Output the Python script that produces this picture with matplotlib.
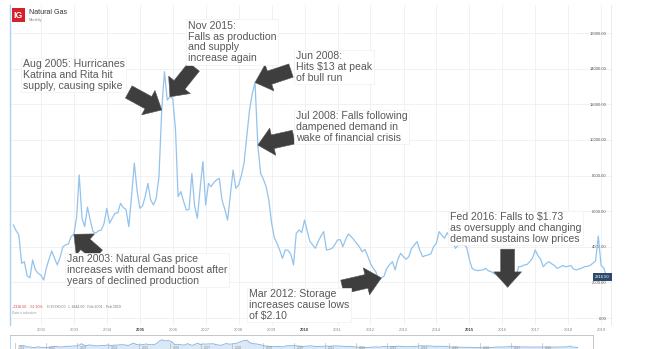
import numpy as np
import pandas as pd
import matplotlib
matplotlib.use('Agg')
import matplotlib.pyplot as plt
from matplotlib.ticker import FuncFormatter
from matplotlib.patches import Rectangle
from matplotlib.transforms import blended_transform_factory

plt.rcParams['font.family'] = ['Liberation Sans', 'DejaVu Sans']

# monthly closes of natural gas, Feb 2001 - Feb 2019 (points, 1000 = $1)
p2001 = [5220, 4900, 4660, 3070, 3160, 2360, 2260, 3260, 2700, 2510, 2400]
p2002 = [2130, 2790, 3300, 3760, 3350, 2980, 3400, 4000, 4100, 4150, 4570, 4700]
p2003 = [5690, 8030, 5600, 5130, 6230, 5500, 4850, 4770, 4900, 4940, 5300, 6160]
p2004 = [5320, 5600, 5880, 5900, 6440, 6200, 6100, 5130, 6800, 8690, 7190, 6160]
p2005 = [6300, 6800, 7560, 6630, 6350, 6700, 7930, 11680, 13830, 12240, 12420, 12330]
p2006 = [10550, 6810, 7100, 6550, 6060, 6100, 8120, 6270, 5600, 7300, 8780, 6350]
p2007 = [7560, 7370, 7600, 7750, 7840, 6630, 6100, 5500, 6900, 8310, 7280, 7470]
p2008 = [8000, 8690, 10180, 11680, 12610, 13220, 9710, 8120, 7800, 7370, 6630, 5320]
p2009 = [4500, 4200, 3800, 3350, 3820, 3800, 3600, 2980, 4750, 4940, 4800, 5500]
p2010 = [4850, 4300, 4100, 3910, 4300, 4600, 4850, 3820, 3850, 3910, 4100, 4380]
p2011 = [4400, 4000, 4400, 4720, 4570, 4400, 4190, 4000, 3720, 3850, 3500, 3070]
p2012 = [2790, 2600, 2100, 2250, 2360, 2790, 3000, 3160, 2700, 3300, 3630, 3440]
p2013 = [3300, 3440, 3900, 4100, 4290, 3820, 3440, 3500, 3540, 3600, 4000, 4190]
p2014 = [4850, 4660, 4480, 4790, 4500, 4380, 3910, 4100, 4100, 4100, 4000, 3300]
p2015 = [2790, 2700, 2660, 2680, 2700, 2790, 2650, 2600, 2500, 2410, 2300, 2200]
p2016 = [1950, 1730, 1960, 2180, 2300, 2880, 2900, 2980, 3000, 3160, 3350, 3820]
p2017 = [3500, 3300, 2880, 3050, 3160, 3050, 2950, 2790, 2850, 2950, 2880, 2900]
p2018 = [2950, 2750, 2700, 2750, 2800, 2880, 2900, 2950, 3070, 3200, 4600, 2950]
p2019 = [2800, 2316.50]

prices = (p2001 + p2002 + p2003 + p2004 + p2005 + p2006 + p2007 + p2008 + p2009
          + p2010 + p2011 + p2012 + p2013 + p2014 + p2015 + p2016 + p2017 + p2018 + p2019)
dates = pd.date_range('2001-02-01', periods=len(prices), freq='MS') + pd.offsets.MonthEnd(0)

year_ticks = list(range(2002, 2020))
bold_years = [2005, 2010, 2015]
nav_years = list(range(2001, 2019))
y_ticks = list(range(0, 16001, 2000))

notes = [
    ('Aug 2005: Hurricanes\nKatrina and Rita hit\nsupply, causing spike', 22.7, 75),
    ('Nov 2015:\nFalls as production\nand supply\nincrease again', 188, 42),
    ('Jun 2008:\nHits $13 at peak\nof bull run', 296, 67),
    ('Jul 2008: Falls following\ndampened demand in\nwake of financial crisis', 296, 127),
    ('Jan 2003: Natural Gas price\nincreases with demand boost after\nyears of declined production', 66.7, 270),
    ('Mar 2012: Storage\nincreases cause lows\nof $2.10', 249, 305),
    ('Fed 2016: Falls to $1.73\nas oversupply and changing\ndemand sustains low prices', 450, 228),
]


def idx(year, month):
    return (year - 2001) * 12 + month - 2


# arrow tip at a month, tail offset in pixels (dx, dy up)
arrows = [
    (idx(2005, 8), -33, 18),
    (idx(2005, 11), 24, 30),
    (idx(2008, 6), 36, 12),
    (idx(2008, 7), 36, 8),
    (idx(2002, 12), 24, -21),
    (idx(2012, 4), -39, -9),
    (idx(2016, 2), 0, 38),
]

W, H = 648, 349
fig = plt.figure(figsize=(W / 100, H / 100), dpi=100)


def px_axes(x0, y0, x1, y1):
    return fig.add_axes([x0 / W, 1 - y1 / H, (x1 - x0) / W, (y1 - y0) / H])


ax = px_axes(10, 5, 611, 325)
ax.plot(dates, prices, color='#93c3ec', lw=0.9, zorder=2)
ax.set_xlim(pd.Timestamp('2001-01-22'), pd.Timestamp('2019-04-20'))
ax.set_ylim(-393, 17574)

ax.set_xticks([pd.Timestamp(f'{y}-01-01') for y in year_ticks])
ax.set_xticklabels([str(y) for y in year_ticks])
for lbl, y in zip(ax.get_xticklabels(), year_ticks):
    if y in bold_years:
        lbl.set_fontweight('bold')
        lbl.set_color('#444444')
    else:
        lbl.set_color('#888888')
ax.tick_params(axis='x', length=0, pad=2.5, labelsize=3)

ax.yaxis.tick_right()
ax.set_yticks(y_ticks)
ax.yaxis.set_major_formatter(FuncFormatter(lambda v, _: f'{v:.2f}'))
ax.tick_params(axis='y', length=0, pad=-3, labelsize=3, labelcolor='#555555')
for lbl in ax.get_yticklabels():
    lbl.set_ha('right')

ax.grid(True, color='#efefef', lw=0.6, zorder=0)
ax.set_axisbelow(True)
for s in ['top', 'bottom']:
    ax.spines[s].set_visible(False)
ax.spines['left'].set_color('#a9d3ef')
ax.spines['left'].set_linewidth(1.0)
ax.spines['right'].set_color('#e8e8e8')
ax.spines['right'].set_linewidth(0.6)

# last price tag
blend = blended_transform_factory(ax.transAxes, ax.transData)
ax.text(0.998, prices[-1], f'{prices[-1]:.2f}', transform=blend, ha='right', va='center',
        fontsize=3, color='white', zorder=5,
        bbox=dict(boxstyle='square,pad=0.45', fc='#2d4a6a', ec='none'))

# annotation texts
for txt, x, y in notes:
    fig.text(x / W, 1 - y / H, txt, ha='left', va='center', fontsize=7.6,
             color='#595959', linespacing=1.08, zorder=1.5,
             bbox=dict(boxstyle='square,pad=0.15', fc='white', ec='#f0f0f0', lw=0.5))

# block arrows
for i, dx, dy in arrows:
    ax.annotate('', xy=(dates[i], prices[i]), xytext=(dx, dy), textcoords='offset pixels',
                arrowprops=dict(arrowstyle='simple,head_length=11,head_width=20,tail_width=10',
                                mutation_scale=1, fc='#3e3e3e', ec='#555555', lw=0.4,
                                shrinkA=0, shrinkB=0), zorder=4)

# header
fig.patches.append(Rectangle((12 / W, 1 - 22 / H), 13 / W, 14 / H, transform=fig.transFigure,
                             fc='#d6202a', ec='none'))
fig.text(18.5 / W, 1 - 15.3 / H, 'IG', ha='center', va='center', fontsize=6.3,
         fontweight='bold', color='white')
fig.text(29 / W, 1 - 13 / H, 'Natural Gas', ha='left', va='center', fontsize=5.1, color='#333333')
fig.text(29 / W, 1 - 19.5 / H, 'Monthly', ha='left', va='center', fontsize=2.8, color='#8a8a8a')

# stats line
fig.text(12 / W, 1 - 307.5 / H, '-2316.50   -51.10%', ha='left', va='center', fontsize=2.6,
         color='#d9403a')
fig.text(47 / W, 1 - 307.5 / H, 'H 15780.00   L 1844.00   Feb 2001 - Feb 2019', ha='left',
         va='center', fontsize=2.6, color='#777777')
fig.text(12 / W, 1 - 313.5 / H, 'Data is indicative', ha='left', va='center', fontsize=2.3,
         color='#999999')

# navigator
nav = px_axes(10, 335, 593, 349)
nav.fill_between(dates, prices, 0, color='#dbe9f7', lw=0)
nav.plot(dates, prices, color='#7fb0e0', lw=0.6)
nav.set_xlim(pd.Timestamp('2000-11-08'), pd.Timestamp('2019-08-28'))
nav.set_ylim(0, 21000)
for y in nav_years:
    t = pd.Timestamp(f'{y}-01-01')
    nav.axvline(t, ymin=0, ymax=0.45, color='#b8b8b8', lw=0.5)
    nav.text(t + pd.Timedelta(days=40), 2200, str(y), fontsize=2.3, color='#888888',
             ha='left', va='center')
nav.set_xticks([])
nav.set_yticks([])
for s in nav.spines.values():
    s.set_color('#bdbdbd')
    s.set_linewidth(0.6)
nav.spines['left'].set_color('#a9d3ef')

fig.savefig('out.png', dpi=100)
